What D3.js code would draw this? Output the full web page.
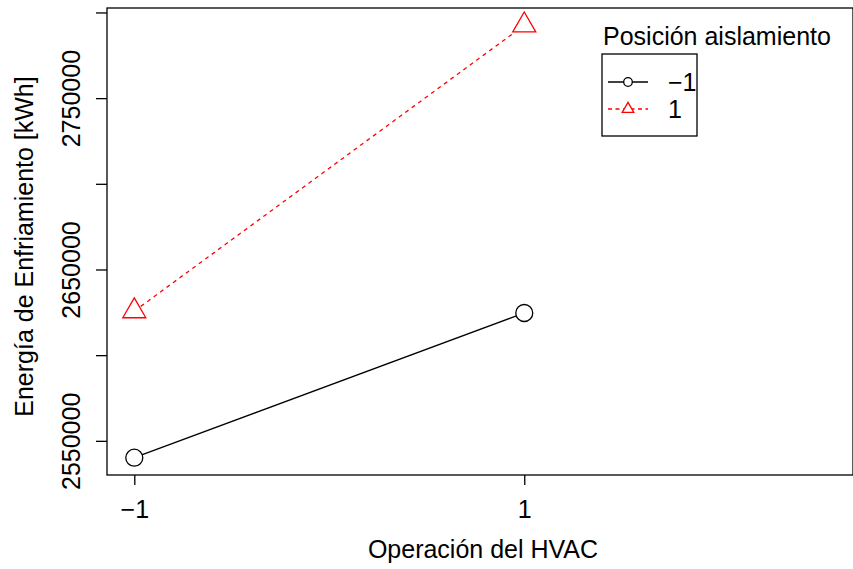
<!DOCTYPE html>
<html>
<head>
<meta charset="utf-8">
<script src="https://cdn.jsdelivr.net/npm/d3@7"></script>
<style>
  body { margin: 0; background: #fff; }
  svg text { font-family: "Liberation Sans", Arial, Helvetica, sans-serif; }
</style>
</head>
<body>
<div id="chart"></div>
<script>
// data
const hvacLevels = ["-1", "1"];
const aisLevels = ["-1", "1"];
const energyAisNeg = [2540450, 2624900];
const energyAisPos = [2626000, 2792800];
const yTicks = [2550000, 2600000, 2650000, 2700000, 2750000, 2800000];
const yTickLabels = ["2550000", "", "2650000", "", "2750000", ""];

const width = 853, height = 569;
const plot = { left: 107, right: 853, top: 8, bottom: 475 };
const fs = '25px';

const svg = d3.select('#chart').append('svg')
    .attr('width', width)
    .attr('height', height);

// x positions are 1..n with extra room on the right for the legend (like interaction.plot)
let x = d3.scaleLinear()
    .domain([0.93, 2.843])
    .range([plot.left, plot.right]);

let allVals = energyAisNeg.concat(energyAisPos);
let ext = d3.extent(allVals);
let pad = (ext[1] - ext[0]) * 0.04;
let y = d3.scaleLinear()
    .domain([ext[0] - pad, ext[1] + pad])
    .range([plot.bottom, plot.top]);

// box
svg.append('rect')
    .attr('x', plot.left).attr('y', plot.top)
    .attr('width', plot.right - plot.left)
    .attr('height', plot.bottom - plot.top)
    .attr('fill', 'none').attr('stroke', '#000').attr('stroke-width', 1.3);

// x axis
let xAxis = d3.axisBottom(x)
    .tickValues([1, 2])
    .tickSize(10)
    .tickFormat((d, i) => hvacLevels[i].replace('-', '\u2212'));
let gx = svg.append('g')
    .attr('transform', `translate(0,${plot.bottom})`)
    .call(xAxis);
gx.select('.domain').remove();
gx.selectAll('line').attr('stroke-width', 1.3);
gx.selectAll('text')
    .attr('y', 25).attr('dy', '0.71em')
    .style('font-size', fs).attr('fill', '#000');

// y axis
let yAxis = d3.axisLeft(y)
    .tickValues(yTicks)
    .tickSize(11)
    .tickFormat((d, i) => yTickLabels[i]);
let gy = svg.append('g')
    .attr('transform', `translate(${plot.left},0)`)
    .call(yAxis);
gy.select('.domain').remove();
gy.selectAll('.tick').attr('transform', 'translate(0,0)');
gy.selectAll('.tick line')
    .attr('y1', d => y(d)).attr('y2', d => y(d))
    .attr('stroke-width', 1.3);
gy.selectAll('text')
    .attr('x', 0).attr('y', 0)
    .attr('text-anchor', 'middle')
    .attr('transform', d => `translate(-36,${y(d)}) rotate(-90)`)
    .attr('dy', '0.35em')
    .style('font-size', fs).attr('fill', '#000');

// axis titles
svg.append('text')
    .attr('x', 483)
    .attr('y', 558)
    .attr('text-anchor', 'middle')
    .style('font-size', fs)
    .text('Operación del HVAC');

svg.append('text')
    .attr('transform', `translate(33,${(plot.top + plot.bottom) / 2 + 5}) rotate(-90)`)
    .attr('text-anchor', 'middle')
    .style('font-size', fs)
    .text('Energía de Enfriamiento [kWh]');

// series
let series = [
    { name: aisLevels[0], values: energyAisNeg, color: '#000', dash: null, shape: 'circle' },
    { name: aisLevels[1], values: energyAisPos, color: '#ff0000', dash: '4,4', shape: 'triangle' }
];

let line = d3.line()
    .x((d, i) => x(i + 1))
    .y(d => y(d));

function triPath(r) {
    // R's pch 2 geometry
    let xc = r * 1.347 / 1.555, yc = r / 2;
    return `M0,${-r}L${xc},${yc}L${-xc},${yc}Z`;
}

series.forEach(s => {
    svg.append('path')
        .datum(s.values)
        .attr('d', line)
        .attr('fill', 'none')
        .attr('stroke', s.color)
        .attr('stroke-width', 1.3)
        .attr('stroke-dasharray', s.dash);

    let pts = svg.selectAll(null)
        .data(s.values)
        .enter().append('g')
        .attr('transform', (d, i) => `translate(${x(i + 1)},${y(d)})`);

    if (s.shape === 'circle') {
        pts.append('circle')
            .attr('r', 8.5)
            .attr('fill', '#fff')
            .attr('stroke', s.color)
            .attr('stroke-width', 1.3);
    } else {
        pts.append('path')
            .attr('d', triPath(13.3))
            .attr('fill', '#fff')
            .attr('stroke', s.color)
            .attr('stroke-width', 1.3);
    }
});

// legend
let legend = svg.append('g').attr('transform', 'translate(602,0)');
legend.append('text')
    .attr('x', 1).attr('y', 45)
    .style('font-size', fs)
    .text('Posición aislamiento');
legend.append('rect')
    .attr('x', 0).attr('y', 54)
    .attr('width', 95).attr('height', 82)
    .attr('fill', 'none').attr('stroke', '#000').attr('stroke-width', 1.3);

let rows = legend.selectAll('.row')
    .data(series)
    .enter().append('g')
    .attr('class', 'row')
    .attr('transform', (d, i) => `translate(0,${82 + i * 27})`);

rows.append('line')
    .attr('x1', 6).attr('x2', 46)
    .attr('stroke', d => d.color)
    .attr('stroke-width', 1.3)
    .attr('stroke-dasharray', d => d.dash ? '4,3.5' : null);

rows.each(function (d) {
    let g = d3.select(this);
    if (d.shape === 'circle') {
        g.append('circle').attr('cx', 26).attr('r', 4.3)
            .attr('fill', '#fff').attr('stroke', d.color).attr('stroke-width', 1.3);
    } else {
        g.append('path').attr('transform', 'translate(26,0)')
            .attr('d', triPath(6.7))
            .attr('fill', '#fff').attr('stroke', d.color).attr('stroke-width', 1.3);
    }
});

rows.append('text')
    .attr('x', 66).attr('y', 0).attr('dy', '0.35em')
    .style('font-size', fs)
    .text(d => d.name.replace('-', '\u2212'));
</script>
</body>
</html>
